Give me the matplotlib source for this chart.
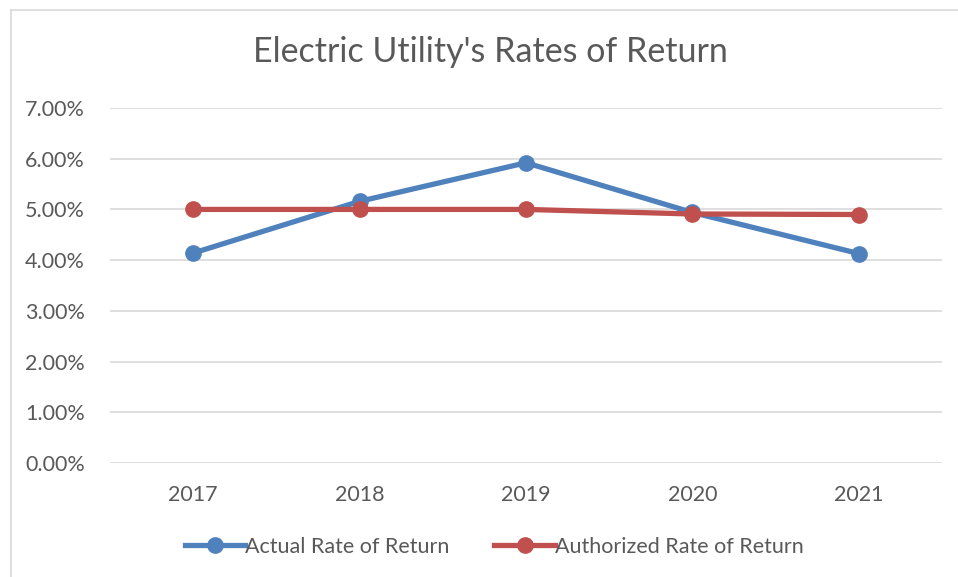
import matplotlib
matplotlib.use("Agg")
import matplotlib.pyplot as plt
from matplotlib.lines import Line2D
from matplotlib.ticker import PercentFormatter

plt.rcParams["font.family"] = ["Lato", "DejaVu Sans"]

years = ["2017", "2018", "2019", "2020", "2021"]
actual = [4.14, 5.16, 5.92, 4.94, 4.13]
authorized = [5.00, 5.00, 5.00, 4.91, 4.90]

blue = "#4F81BD"
red = "#C0504D"
text_col = "#595959"

fig = plt.figure(figsize=(9.58, 5.77), dpi=100)
ax = fig.add_axes([110 / 958, 1 - 463 / 577, (942 - 110) / 958, (463 - 108) / 577])

x = range(len(years))
ax.plot(x, actual, color=blue, lw=3.8, marker="o", ms=11, label="Actual Rate of Return")
ax.plot(x, authorized, color=red, lw=3.8, marker="o", ms=11, label="Authorized Rate of Return")

ax.set_xlim(-0.5, len(years) - 0.5)
ax.set_ylim(0, 7)
ax.set_yticks([0, 1, 2, 3, 4, 5, 6, 7])
ax.yaxis.set_major_formatter(PercentFormatter(decimals=2))
ax.set_xticks(list(x))
ax.set_xticklabels(years)
ax.grid(axis="y", color="#D9D9D9", lw=1.2)
ax.set_axisbelow(True)
for s in ax.spines.values():
    s.set_visible(False)
ax.tick_params(length=0, labelsize=15.5, colors=text_col)
ax.tick_params(axis="y", pad=18)
ax.tick_params(axis="x", pad=16)

fig.text(490 / 958, 1 - 52 / 577, "Electric Utility's Rates of Return", ha="center", va="center",
         fontsize=24.5, color=text_col)

ax.legend(loc="center", bbox_to_anchor=((494 - 110) / 832, (463 - 547) / (463 - 108)), ncol=2,
          frameon=False, fontsize=15.5, labelcolor=text_col, handlelength=2.8, handletextpad=0.0,
          columnspacing=2.1)

# chart border (top and left edges visible)
fig.add_artist(Line2D([10.5 / 958, 1], [1 - 9.5 / 577, 1 - 9.5 / 577], color="#D9D9D9", lw=1.2))
fig.add_artist(Line2D([10.5 / 958, 10.5 / 958], [0, 1 - 9.5 / 577], color="#D9D9D9", lw=1.2))

fig.savefig("out.png", dpi=100)
